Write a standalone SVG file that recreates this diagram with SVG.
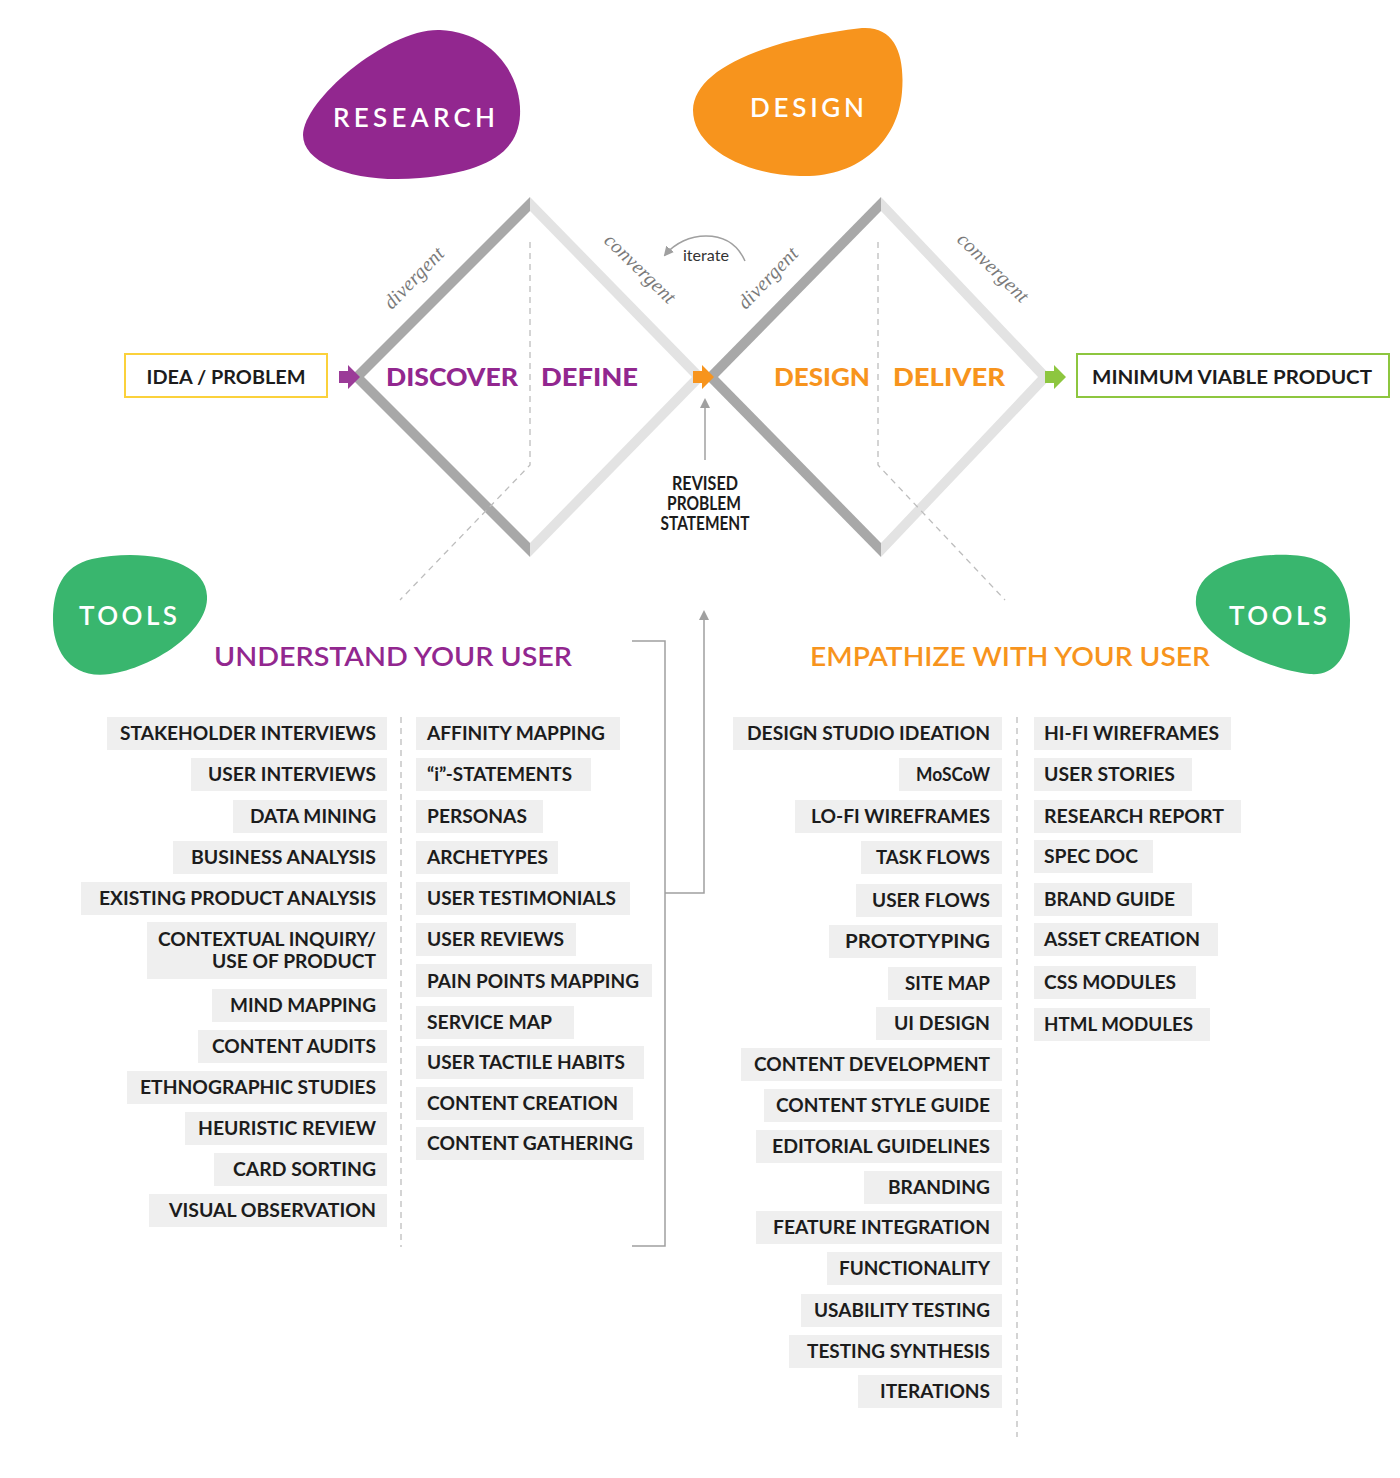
<svg xmlns="http://www.w3.org/2000/svg" width="1400" height="1478" viewBox="0 0 1400 1478">
<style>
.lbl{font-family:Lato,"Liberation Sans",sans-serif;font-weight:700;font-size:18px;fill:#1c1c1c}
.box{fill:#efefef}
.dash{stroke:#bdbdbd;stroke-width:1.3;stroke-dasharray:6 5;fill:none}
.dk{fill:#a8a8a8}
.lt{fill:#e3e3e3}
.it{font-family:"Liberation Serif",serif;font-style:italic;font-size:20px;letter-spacing:0.3px;fill:#7a7a7a}
.blobt{font-family:Lato,"Liberation Sans",sans-serif;font-weight:600;font-size:26px;fill:#ffffff}
.head{font-family:Lato,"Liberation Sans",sans-serif;font-weight:600;font-size:27px}
.phase{font-family:Lato,"Liberation Sans",sans-serif;font-weight:900;font-size:25px}
.ln{stroke:#a0a0a0;stroke-width:1.5;fill:none}
</style>
<defs>
<marker id="ah" markerWidth="10" markerHeight="10" refX="8" refY="5" orient="auto" markerUnits="userSpaceOnUse">
<path d="M0,0 L10,5 L0,10 Z" fill="#a0a0a0"/>
</marker>
</defs>
<rect width="1400" height="1478" fill="#ffffff"/>

<g id="research">
<path d="M440,30 C492,32 522,75 520,115 C518,155 482,172 420,178 C358,184 303,165 303,135 C303,100 388,28 440,30 Z" fill="#92278f"/>
<text class="blobt" x="333" y="127" textLength="162" lengthAdjust="spacing">RESEARCH</text>
</g>
<g id="design">
<path d="M862,28 C895,26 905,55 902,92 C898,142 858,178 800,176 C740,174 693,146 693,110 C694,70 762,40 862,28 Z" fill="#f7941d"/>
<text class="blobt" x="750" y="117" textLength="114" lengthAdjust="spacing">DESIGN</text>
</g>

<g id="diamond1">
<polygon class="dk" points="350,377 530,197 530,211 364,377"/>
<polygon class="dk" points="350,377 530,557 530,543 364,377"/>
<polygon class="lt" points="530,197 706,377 692,377 530,211"/>
<polygon class="lt" points="530,557 706,377 692,377 530,543"/>
</g>
<g id="diamond2">
<polygon class="dk" points="704,377 881,197 881,211 718,377"/>
<polygon class="dk" points="704,377 881,557 881,543 718,377"/>
<polygon class="lt" points="881,197 1052,377 1038,377 881,211"/>
<polygon class="lt" points="881,557 1052,377 1038,377 881,543"/>
</g>

<g id="guides">
<path class="dash" d="M530,242 L530,465 L400,600"/>
<path class="dash" d="M878,242 L878,465 L1005,600"/>
<line class="dash" x1="401" y1="717" x2="401" y2="1247"/>
<line class="dash" x1="1017" y1="717" x2="1017" y2="1437"/>
</g>

<g id="annotations">
<text class="it" transform="translate(415,279) rotate(-46)" x="0" y="5" text-anchor="middle">divergent</text>
<text class="it" transform="translate(635,274) rotate(44)" x="0" y="-1" text-anchor="middle">convergent</text>
<text class="it" transform="translate(769,279) rotate(-46)" x="0" y="5" text-anchor="middle">divergent</text>
<text class="it" transform="translate(988,273) rotate(44)" x="0" y="-1" text-anchor="middle">convergent</text>
<text x="706" y="261" text-anchor="middle" font-family="Lato,'Liberation Sans',sans-serif" font-weight="400" font-size="15" fill="#333" textLength="46" lengthAdjust="spacingAndGlyphs">iterate</text>
</g>

<g id="idea">
<rect x="125" y="354" width="202" height="43" fill="#ffffff" stroke="#fbd13b" stroke-width="2"/>
<text class="lbl" x="226" y="384" text-anchor="middle" font-size="19" textLength="159" lengthAdjust="spacingAndGlyphs">IDEA / PROBLEM</text>
</g>
<g id="mvp">
<rect x="1077" y="354" width="312" height="43" fill="#ffffff" stroke="#8dc63f" stroke-width="2"/>
<text class="lbl" x="1232" y="384" text-anchor="middle" font-size="19" textLength="280" lengthAdjust="spacingAndGlyphs">MINIMUM VIABLE PRODUCT</text>
</g>

<g id="phases">
<text class="phase" x="386" y="386" fill="#92278f" textLength="132" lengthAdjust="spacingAndGlyphs">DISCOVER</text>
<text class="phase" x="541" y="386" fill="#92278f" textLength="97" lengthAdjust="spacingAndGlyphs">DEFINE</text>
<text class="phase" x="774" y="386" fill="#f7941d" textLength="96" lengthAdjust="spacingAndGlyphs">DESIGN</text>
<text class="phase" x="893" y="386" fill="#f7941d" textLength="112" lengthAdjust="spacingAndGlyphs">DELIVER</text>
</g>

<g id="revised">
<text class="lbl" font-size="13" text-anchor="middle" x="705" y="490" textLength="66" lengthAdjust="spacingAndGlyphs">REVISED</text>
<text class="lbl" font-size="13" text-anchor="middle" x="704" y="510" textLength="74" lengthAdjust="spacingAndGlyphs">PROBLEM</text>
<text class="lbl" font-size="13" text-anchor="middle" x="705" y="530" textLength="89" lengthAdjust="spacingAndGlyphs">STATEMENT</text>
</g>

<g id="connectors">
<polygon points="339,371 348,371 348,365 360,377 348,389 348,383 339,383" fill="#9b3b98"/>
<polygon points="693,371 702,371 702,365 714,377 702,389 702,383 693,383" fill="#f7941d"/>
<polygon points="1045,371 1054,371 1054,365 1066,377 1054,389 1054,383 1045,383" fill="#8dc63f"/>
<path class="ln" d="M745,261 C737,243 722,236 706,236 C690,236 675,243 665,255" marker-end="url(#ah)"/>
<line class="ln" x1="705" y1="460" x2="705" y2="400" marker-end="url(#ah)"/>
<path class="ln" d="M632,641 L665,641 L665,1246 L632,1246"/>
<path class="ln" d="M665,893 L704,893 L704,612" marker-end="url(#ah)"/>
</g>

<g id="tools-left">
<path d="M92,559 C145,548 206,560 207,596 C209,632 152,668 110,674 C70,680 53,650 53,620 C53,590 62,566 92,559 Z" fill="#39b66e"/>
<text class="blobt" x="79" y="625" textLength="98" lengthAdjust="spacing">TOOLS</text>
</g>
<g id="tools-right">
<path d="M1290,555 C1332,556 1350,582 1350,620 C1350,660 1332,676 1310,674 C1270,670 1200,640 1196,605 C1193,570 1240,553 1290,555 Z" fill="#39b66e"/>
<text class="blobt" x="1229" y="625" textLength="98" lengthAdjust="spacing">TOOLS</text>
</g>

<g id="heading-understand">
<text class="head" x="214" y="666" fill="#92278f" textLength="358" lengthAdjust="spacingAndGlyphs">UNDERSTAND YOUR USER</text>
</g>
<g id="heading-empathize">
<text class="head" x="810" y="666" fill="#f7941d" textLength="400" lengthAdjust="spacingAndGlyphs">EMPATHIZE WITH YOUR USER</text>
</g>

<g id="research-tools-a">
<rect class="box" x="107" y="717" width="280" height="33"/><text class="lbl" x="376" y="740" text-anchor="end" textLength="256" lengthAdjust="spacingAndGlyphs">STAKEHOLDER INTERVIEWS</text>
<rect class="box" x="191" y="758" width="196" height="33"/><text class="lbl" x="376" y="781" text-anchor="end" textLength="168" lengthAdjust="spacingAndGlyphs">USER INTERVIEWS</text>
<rect class="box" x="233" y="800" width="154" height="33"/><text class="lbl" x="376" y="823" text-anchor="end" textLength="126" lengthAdjust="spacingAndGlyphs">DATA MINING</text>
<rect class="box" x="173" y="841" width="214" height="33"/><text class="lbl" x="376" y="864" text-anchor="end" textLength="185" lengthAdjust="spacingAndGlyphs">BUSINESS ANALYSIS</text>
<rect class="box" x="81" y="882" width="306" height="33"/><text class="lbl" x="376" y="905" text-anchor="end" textLength="277" lengthAdjust="spacingAndGlyphs">EXISTING PRODUCT ANALYSIS</text>
<rect class="box" x="147" y="922" width="240" height="57"/><text class="lbl" x="376" y="946" text-anchor="end" textLength="218" lengthAdjust="spacingAndGlyphs">CONTEXTUAL INQUIRY/</text><text class="lbl" x="376" y="968" text-anchor="end" textLength="164" lengthAdjust="spacingAndGlyphs">USE OF PRODUCT</text>
<rect class="box" x="212" y="989" width="175" height="33"/><text class="lbl" x="376" y="1012" text-anchor="end" textLength="146" lengthAdjust="spacingAndGlyphs">MIND MAPPING</text>
<rect class="box" x="198" y="1030" width="189" height="33"/><text class="lbl" x="376" y="1053" text-anchor="end" textLength="164" lengthAdjust="spacingAndGlyphs">CONTENT AUDITS</text>
<rect class="box" x="127" y="1071" width="260" height="33"/><text class="lbl" x="376" y="1094" text-anchor="end" textLength="236" lengthAdjust="spacingAndGlyphs">ETHNOGRAPHIC STUDIES</text>
<rect class="box" x="185" y="1112" width="202" height="33"/><text class="lbl" x="376" y="1135" text-anchor="end" textLength="178" lengthAdjust="spacingAndGlyphs">HEURISTIC REVIEW</text>
<rect class="box" x="214" y="1153" width="173" height="33"/><text class="lbl" x="376" y="1176" text-anchor="end" textLength="143" lengthAdjust="spacingAndGlyphs">CARD SORTING</text>
<rect class="box" x="149" y="1194" width="238" height="33"/><text class="lbl" x="376" y="1217" text-anchor="end" textLength="207" lengthAdjust="spacingAndGlyphs">VISUAL OBSERVATION</text>
</g>

<g id="research-tools-b">
<rect class="box" x="416" y="717" width="204" height="33"/><text class="lbl" x="427" y="740" textLength="178" lengthAdjust="spacingAndGlyphs">AFFINITY MAPPING</text>
<rect class="box" x="416" y="758" width="175" height="33"/><text class="lbl" x="427" y="781" textLength="145" lengthAdjust="spacingAndGlyphs">“i”-STATEMENTS</text>
<rect class="box" x="416" y="800" width="127" height="33"/><text class="lbl" x="427" y="823" textLength="100" lengthAdjust="spacingAndGlyphs">PERSONAS</text>
<rect class="box" x="416" y="841" width="142" height="33"/><text class="lbl" x="427" y="864" textLength="121" lengthAdjust="spacingAndGlyphs">ARCHETYPES</text>
<rect class="box" x="416" y="882" width="214" height="33"/><text class="lbl" x="427" y="905" textLength="189" lengthAdjust="spacingAndGlyphs">USER TESTIMONIALS</text>
<rect class="box" x="416" y="923" width="160" height="33"/><text class="lbl" x="427" y="946" textLength="137" lengthAdjust="spacingAndGlyphs">USER REVIEWS</text>
<rect class="box" x="416" y="964" width="236" height="33"/><text class="lbl" x="427" y="988" textLength="212" lengthAdjust="spacingAndGlyphs">PAIN POINTS MAPPING</text>
<rect class="box" x="416" y="1006" width="158" height="33"/><text class="lbl" x="427" y="1029" textLength="125" lengthAdjust="spacingAndGlyphs">SERVICE MAP</text>
<rect class="box" x="416" y="1046" width="228" height="33"/><text class="lbl" x="427" y="1069" textLength="198" lengthAdjust="spacingAndGlyphs">USER TACTILE HABITS</text>
<rect class="box" x="416" y="1087" width="217" height="33"/><text class="lbl" x="427" y="1110" textLength="191" lengthAdjust="spacingAndGlyphs">CONTENT CREATION</text>
<rect class="box" x="416" y="1127" width="228" height="33"/><text class="lbl" x="427" y="1150" textLength="206" lengthAdjust="spacingAndGlyphs">CONTENT GATHERING</text>
</g>

<g id="design-tools-a">
<rect class="box" x="733" y="717" width="269" height="33"/><text class="lbl" x="990" y="740" text-anchor="end" textLength="243" lengthAdjust="spacingAndGlyphs">DESIGN STUDIO IDEATION</text>
<rect class="box" x="899" y="758" width="103" height="33"/><text class="lbl" x="990" y="781" text-anchor="end" textLength="74" lengthAdjust="spacingAndGlyphs">MoSCoW</text>
<rect class="box" x="795" y="800" width="207" height="33"/><text class="lbl" x="990" y="823" text-anchor="end" textLength="179" lengthAdjust="spacingAndGlyphs">LO-FI WIREFRAMES</text>
<rect class="box" x="861" y="841" width="141" height="33"/><text class="lbl" x="990" y="864" text-anchor="end" textLength="114" lengthAdjust="spacingAndGlyphs">TASK FLOWS</text>
<rect class="box" x="856" y="884" width="146" height="33"/><text class="lbl" x="990" y="907" text-anchor="end" textLength="118" lengthAdjust="spacingAndGlyphs">USER FLOWS</text>
<rect class="box" x="829" y="925" width="173" height="33"/><text class="lbl" x="990" y="948" text-anchor="end" textLength="145" lengthAdjust="spacingAndGlyphs">PROTOTYPING</text>
<rect class="box" x="888" y="967" width="114" height="33"/><text class="lbl" x="990" y="990" text-anchor="end" textLength="85" lengthAdjust="spacingAndGlyphs">SITE MAP</text>
<rect class="box" x="876" y="1007" width="126" height="33"/><text class="lbl" x="990" y="1030" text-anchor="end" textLength="96" lengthAdjust="spacingAndGlyphs">UI DESIGN</text>
<rect class="box" x="741" y="1048" width="261" height="33"/><text class="lbl" x="990" y="1071" text-anchor="end" textLength="236" lengthAdjust="spacingAndGlyphs">CONTENT DEVELOPMENT</text>
<rect class="box" x="764" y="1089" width="238" height="33"/><text class="lbl" x="990" y="1112" text-anchor="end" textLength="214" lengthAdjust="spacingAndGlyphs">CONTENT STYLE GUIDE</text>
<rect class="box" x="756" y="1130" width="246" height="33"/><text class="lbl" x="990" y="1153" text-anchor="end" textLength="218" lengthAdjust="spacingAndGlyphs">EDITORIAL GUIDELINES</text>
<rect class="box" x="864" y="1171" width="138" height="33"/><text class="lbl" x="990" y="1194" text-anchor="end" textLength="102" lengthAdjust="spacingAndGlyphs">BRANDING</text>
<rect class="box" x="756" y="1211" width="246" height="33"/><text class="lbl" x="990" y="1234" text-anchor="end" textLength="217" lengthAdjust="spacingAndGlyphs">FEATURE INTEGRATION</text>
<rect class="box" x="827" y="1252" width="175" height="33"/><text class="lbl" x="990" y="1275" text-anchor="end" textLength="151" lengthAdjust="spacingAndGlyphs">FUNCTIONALITY</text>
<rect class="box" x="801" y="1294" width="201" height="33"/><text class="lbl" x="990" y="1317" text-anchor="end" textLength="176" lengthAdjust="spacingAndGlyphs">USABILITY TESTING</text>
<rect class="box" x="789" y="1335" width="213" height="33"/><text class="lbl" x="990" y="1358" text-anchor="end" textLength="183" lengthAdjust="spacingAndGlyphs">TESTING SYNTHESIS</text>
<rect class="box" x="858" y="1375" width="144" height="33"/><text class="lbl" x="990" y="1398" text-anchor="end" textLength="110" lengthAdjust="spacingAndGlyphs">ITERATIONS</text>
</g>

<g id="design-tools-b">
<rect class="box" x="1034" y="717" width="197" height="33"/><text class="lbl" x="1044" y="740" textLength="175" lengthAdjust="spacingAndGlyphs">HI-FI WIREFRAMES</text>
<rect class="box" x="1034" y="758" width="158" height="33"/><text class="lbl" x="1044" y="781" textLength="131" lengthAdjust="spacingAndGlyphs">USER STORIES</text>
<rect class="box" x="1034" y="800" width="207" height="33"/><text class="lbl" x="1044" y="823" textLength="180" lengthAdjust="spacingAndGlyphs">RESEARCH REPORT</text>
<rect class="box" x="1034" y="840" width="119" height="33"/><text class="lbl" x="1044" y="863" textLength="94" lengthAdjust="spacingAndGlyphs">SPEC DOC</text>
<rect class="box" x="1034" y="883" width="158" height="33"/><text class="lbl" x="1044" y="906" textLength="131" lengthAdjust="spacingAndGlyphs">BRAND GUIDE</text>
<rect class="box" x="1034" y="923" width="184" height="33"/><text class="lbl" x="1044" y="946" textLength="156" lengthAdjust="spacingAndGlyphs">ASSET CREATION</text>
<rect class="box" x="1034" y="966" width="162" height="33"/><text class="lbl" x="1044" y="989" textLength="132" lengthAdjust="spacingAndGlyphs">CSS MODULES</text>
<rect class="box" x="1034" y="1008" width="176" height="33"/><text class="lbl" x="1044" y="1031" textLength="149" lengthAdjust="spacingAndGlyphs">HTML MODULES</text>
</g>
</svg>
